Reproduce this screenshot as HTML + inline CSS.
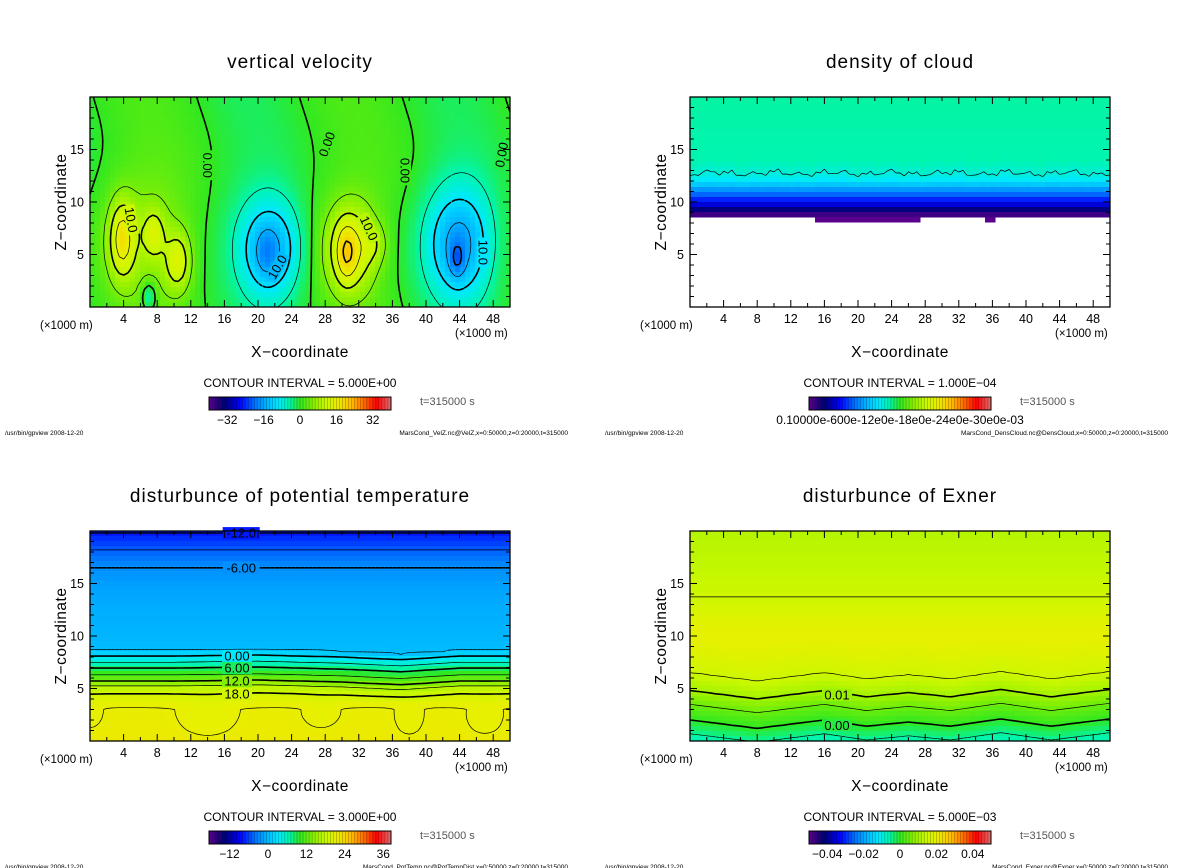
<!DOCTYPE html>
<html><head><meta charset="utf-8">
<style>
html,body{margin:0;padding:0;background:#fff;}
svg{display:block;font-family:"Liberation Sans",sans-serif;}
</style></head>
<body>
<svg id="root" width="1200" height="868" viewBox="0 0 1200 868" xmlns="http://www.w3.org/2000/svg"></svg>
<script>
// ---------- DATA ----------
const velBlobX  = [3.8, 7.6, 10.5, 6.5, 7.0, 21.5, 21.0, 31.0, 30.5, 34.0, 44.0, 43.7];
const velBlobZ  = [6.5, 7.0, 4.3, 6.0, 1.0, 5.5, 5.0, 5.5, 5.0, 6.0, 6.0, 4.5];
const velBlobSX = [1.1, 0.9, 1.1, 4.0, 0.6, 2.6, 0.8, 2.2, 0.8, 1.0, 2.8, 0.6];
const velBlobSZ = [2.6, 1.6, 2.0, 4.5, 1.0, 3.3, 1.5, 3.0, 2.0, 1.3, 3.8, 1.2];
const velBlobAmp= [13, 8, 11, 4.5, -9, -15, -3, 14, 6, 4, -15, -6];
const velWaveAmp = 2.0, velWavePeriod = 24.5, velWaveCenter = 7;
const velLevels = [-20,-15,-10,-5,0,5,10,15,20];
const velTicks = [-32,-16,0,16,32];

const cloudZ   = [8.6, 9.0, 9.5, 10.0, 10.8, 11.5, 12.0, 12.7, 14.0, 20.0];
const cloudVal = [0.05, 0.5, 1.2, 1.7, 2.5, 3.2, 3.8, 4.1, 4.4, 4.45];
const cloudBaseX = [0, 14.5, 14.6, 27.5, 27.6, 35, 35.1, 36.5, 36.6, 43.5, 43.6, 46, 46.1, 50];
const cloudBaseZ = [8.6, 8.6, 8.3, 8.3, 8.6, 8.6, 8.3, 8.3, 8.6, 8.6, 8.35, 8.35, 8.6, 8.6];
const cloudLevels = [4.1];

const tempZ   = [0, 1, 2, 3, 3.6, 4.5, 5.1, 5.7, 6.3, 6.95, 7.5, 8.1, 8.6, 9.5, 11, 12.5, 14, 16.5, 18.2, 19.8, 20];
const tempVal = [21.6, 21.4, 21.3, 21.2, 20.5, 18, 16, 12, 9, 6, 3, 0, -3, -3.6, -3.9, -4.1, -4.6, -6, -9, -12, -12.3];
const tempDipX  = [14, 27.5, 38, 47, 0];
const tempDipZ  = [2.2, 2.5, 2.0, 2.0, 2.5];
const tempDipSX = [2.3, 1.5, 1.2, 1.5, 1.0];
const tempDipSZ = [1.4, 1.0, 1.3, 1.2, 1.0];
const tempDipAmp= [-1.0, -0.8, -0.8, -0.8, -0.8];
const tempShiftX = [0, 10, 20, 30, 37, 44, 50];
const tempShift  = [0, 0, 0.1, -0.1, -0.35, 0, 0];
const tempLevels = [-12,-9,-6,-3,0,3,6,9,12,15,18,21];
const tempTicks = [-12,0,12,24,36];

const exnZ   = [0, 0.3, 1.6, 3.1, 4.4, 6.1, 8, 9.5, 11, 13.7, 16, 20];
const exnVal = [-0.006, -0.005, 0, 0.005, 0.01, 0.015, 0.018, 0.0195, 0.019, 0.015, 0.0135, 0.012];
const exnShiftX = [0, 8, 16, 21, 26, 31, 37, 43, 50];
const exnShift  = [0.4, -0.4, 0.4, -0.2, 0.2, -0.2, 0.5, -0.2, 0.5];
const exnLevels = [-0.005, 0, 0.005, 0.01, 0.015];
const exnTicks = [-0.04,-0.02,0,0.02,0.04];

// ---------- helpers ----------
const NS = "http://www.w3.org/2000/svg";
const root = document.getElementById('root');
function el(tag, attrs, parent){ const e=document.createElementNS(NS,tag); for(const k in attrs) e.setAttribute(k,attrs[k]); (parent||root).appendChild(e); return e; }
function interp(xs, ys, x){ if(x<=xs[0]) return ys[0]; for(let i=1;i<xs.length;i++){ if(x<=xs[i]){ const t=(x-xs[i-1])/(xs[i]-xs[i-1]); return ys[i-1]+t*(ys[i]-ys[i-1]); } } return ys[ys.length-1]; }
function blobs(X,Z,SX,SZ,A,x,z){ let s=0; for(let i=0;i<X.length;i++){ const dx=(x-X[i])/SX[i], dz=(z-Z[i])/SZ[i]; s+=A[i]*Math.exp(-0.5*(dx*dx+dz*dz)); } return s; }
const cmapT = [0,0.08,0.17,0.25,0.32,0.38,0.44,0.5,0.58,0.64,0.7,0.78,0.86,0.92,1];
const cmapC = ["#600090","#000070","#0000ff","#0070ff","#00b8ff","#00e8ff","#00f5b0","#30e820","#90f000","#c8f800","#e8f000","#ffc000","#ff6000","#ff0000","#e07070"];
function hex(c){return [parseInt(c.slice(1,3),16),parseInt(c.slice(3,5),16),parseInt(c.slice(5,7),16)];}
const cmapRGB = cmapC.map(hex);
function cmap(t){ t=Math.max(0,Math.min(1,t)); let i=1; while(i<cmapT.length-1 && t>cmapT[i]) i++; const f=(t-cmapT[i-1])/(cmapT[i]-cmapT[i-1]); const a=cmapRGB[i-1], b=cmapRGB[i]; return `rgb(${Math.round(a[0]+f*(b[0]-a[0]))},${Math.round(a[1]+f*(b[1]-a[1]))},${Math.round(a[2]+f*(b[2]-a[2]))})`; }

// ---------- fields ----------
function velField(x,z){ const xp = x + 1.2*Math.sin(z/3); return velWaveAmp*Math.cos(2*Math.PI*(xp-velWaveCenter)/velWavePeriod) + blobs(velBlobX,velBlobZ,velBlobSX,velBlobSZ,velBlobAmp,x,z); }
function cloudBase(x){ return interp(cloudBaseX,cloudBaseZ,x); }
function cloudField(x,z){ if(z<cloudBase(x)) return null; const n = 0.06*Math.sin(x*2.3)+0.05*Math.sin(x*5.7+1)+0.04*Math.sin(x*0.9+2); return interp(cloudZ,cloudVal,z) + n*Math.exp(-Math.pow(z-12.7,2)); }
function tempField(x,z){ const w = (z>4 && z<9)?1:0; const zs = z - w*interp(tempShiftX,tempShift,x); return interp(tempZ,tempVal,zs) + blobs(tempDipX,tempDipZ,tempDipSX,tempDipSZ,tempDipAmp,x,z); }
function exnField(x,z){ const w = z<8?1:(z<11?(11-z)/3:0); return interp(exnZ,exnVal, z - w*interp(exnShiftX,exnShift,x)); }

// ---------- panel drawing ----------
const FW=420, FH=210;
function drawPanel(o){
  const g = el('g',{});  
  const X0=90+o.dx, Y0=97+o.dy;
  const px = x=>X0+x*FW/50, py = z=>Y0+FH-z*FH/20;
  const t=el('text',{x:300+o.dx,y:68+o.dy,'text-anchor':'middle','font-size':19,'letter-spacing':1,fill:'#000'},g); t.textContent=o.title;
   
  const fill = el('g',{},g);  
  const step=5;
  for(let i=0;i<FW;i+=step){ for(let j=0;j<FH;j+=step){
    const x=(i+step/2)*50/FW, z=(FH-j-step/2)*20/FH; const v=o.field(x,z); if(v===null) continue;
    el('rect',{x:X0+i,y:Y0+j,width:step+0.5,height:step+0.5,fill:cmap((v-o.vmin)/(o.vmax-o.vmin))},fill);
  }}
  const NX=101, NZ=81, dxk=50/(NX-1), dzk=20/(NZ-1);
  const F=[]; for(let i=0;i<NX;i++){F.push([]); for(let j=0;j<NZ;j++){ F[i].push(o.field(i*dxk,j*dzk)); }}
  const lines = el('g',{fill:'none',stroke:'#000'},g);  
  o.levels.forEach(L=>{
    let d='';
    for(let i=0;i<NX-1;i++) for(let j=0;j<NZ-1;j++){
      const c=[F[i][j],F[i+1][j],F[i+1][j+1],F[i][j+1]]; if(c.some(v=>v===null)) continue;
      const P=[[i,j],[i+1,j],[i+1,j+1],[i,j+1]];
      let cs=0; for(let k=0;k<4;k++) if(c[k]>L) cs|=(1<<k);
      if(cs===0||cs===15) continue;
      const pts={};
      for(let e=0;e<4;e++){ const a=e,b=(e+1)%4; if((c[a]>L)!==(c[b]>L)){ const f=(L-c[a])/(c[b]-c[a]); pts[e]=[ (P[a][0]+f*(P[b][0]-P[a][0]))*dxk, (P[a][1]+f*(P[b][1]-P[a][1]))*dzk ]; } }
      const ks=Object.keys(pts).map(Number); let pairs;
      if(ks.length===2) pairs=[[ks[0],ks[1]]]; else if(cs===5) pairs=[[3,0],[1,2]]; else pairs=[[0,1],[2,3]];
      pairs.forEach(p=>{ const a=pts[p[0]], b=pts[p[1]]; d+=`M${px(a[0]).toFixed(1)},${py(a[1]).toFixed(1)}L${px(b[0]).toFixed(1)},${py(b[1]).toFixed(1)}`; });
    }
    if(!d) return;
    const thick = o.thick(L);
    const p=el('path',{d:d,'stroke-width':thick?1.6:0.7,'stroke-dasharray':L<0?'4,3':'none'},lines);
     
  });
  (o.labels||[]).forEach(l=>{
    const tx=px(l[1]), ty=py(l[2]);
    const v=o.field(l[1],l[2]); const bg = v===null?'#fff':cmap((v-o.vmin)/(o.vmax-o.vmin));
    const lg=el('g',{transform:`rotate(${l[3]||0},${tx},${ty})`},g);
     
    const w=l[0].length*7+2;
    el('rect',{x:tx-w/2,y:ty-6,width:w,height:12,fill:bg},lg);
    const lt=el('text',{x:tx,y:ty+4.5,'text-anchor':'middle','font-size':13,fill:'#000'},lg);
    lt.textContent=l[0];
  });
  const ax=el('g',{stroke:'#000','stroke-width':1.3,fill:'none'},g);  
  el('rect',{x:X0,y:Y0,width:FW,height:FH},ax);
  let td='';
  for(let x=2;x<50;x+=2){ const len=(x%4===0)?7:4; td+=`M${px(x)},${Y0+FH}v${-len}M${px(x)},${Y0}v${len}`; }
  for(let z=1;z<20;z++){ const len=(z%5===0)?7:4; td+=`M${X0},${py(z)}h${len}M${X0+FW},${py(z)}h${-len}`; }
  el('path',{d:td,'stroke-width':1},ax);
  const xt=el('g',{'font-size':12.5,'text-anchor':'middle',fill:'#000'},g);  
  for(let x=4;x<50;x+=4){ const tt=el('text',{x:px(x),y:Y0+FH+16},xt); tt.textContent=x; }
  const yt=el('g',{'font-size':12.5,'text-anchor':'end',fill:'#000'},g);  
  [5,10,15].forEach(z=>{ const tt=el('text',{x:X0-6,y:py(z)+4.5},yt); tt.textContent=z; });
  const u1=el('text',{x:40+o.dx,y:329+o.dy,'font-size':11.5,fill:'#000'},g); u1.textContent='(\u00d71000 m)';  
  const u2=el('text',{x:455+o.dx,y:337+o.dy,'font-size':11.5,fill:'#000'},g); u2.textContent='(\u00d71000 m)';  
  const xl=el('text',{x:300+o.dx,y:357+o.dy,'text-anchor':'middle','font-size':15.5,'letter-spacing':0.5,fill:'#000'},g); xl.textContent='X\u2212coordinate';  
  const yl=el('text',{x:0,y:0,'text-anchor':'middle','font-size':15.5,'letter-spacing':0.5,fill:'#000',transform:`translate(${66+o.dx},${202+o.dy}) rotate(-90)`},g); yl.textContent='Z\u2212coordinate';  
  const ci=el('text',{x:300+o.dx,y:387+o.dy,'text-anchor':'middle','font-size':12,fill:'#000'},g); ci.textContent='CONTOUR INTERVAL = '+o.interval;  
  const cb=el('g',{},g);  
  const BX=209+o.dx, BY=397+o.dy, BW=182, BH=13, N=60;
  for(let k=0;k<N;k++){ const c=cmap((k+0.5)/N); el('rect',{x:BX+k*BW/N,y:BY,width:BW/N+0.3,height:BH,fill:c},cb); el('line',{x1:BX+k*BW/N,y1:BY,x2:BX+k*BW/N,y2:BY+BH,stroke:'rgba(0,0,0,0.35)','stroke-width':0.6},cb); }
  el('rect',{x:BX,y:BY,width:BW,height:BH,fill:'none',stroke:'#000','stroke-width':1},cb);
  if(o.cbTicks){ o.cbTicks.forEach(v=>{ const tx=BX+(v-o.cbMin)/(o.cbMax-o.cbMin)*BW; const tt=el('text',{x:tx,y:BY+27,'text-anchor':'middle','font-size':12,fill:'#000'},cb); tt.textContent=(v<0?'\u2212':'')+Math.abs(v); }); }
  else { const tt=el('text',{x:BX+BW/2,y:BY+27,'text-anchor':'middle','font-size':12,fill:'#000'},cb); tt.textContent=o.cbText; }
  const ts=el('text',{x:420+o.dx,y:405+o.dy,'font-size':11,fill:'#555'},g); ts.textContent='t=315000 s';  
  const f1=el('text',{x:5+o.dx,y:435+o.dy,'font-size':6.5,fill:'#000'},g); f1.textContent='/usr/bin/gpview  2008-12-20';  
  const f2=el('text',{x:568+o.dx,y:435+o.dy,'font-size':6.5,'text-anchor':'end',fill:'#000'},g); f2.textContent=o.footer;  
}

drawPanel({name:'panel-vertical-velocity',title:'vertical velocity',dx:0,dy:0,field:velField,vmin:-40,vmax:40,levels:velLevels,
  thick:L=>L%10===0,interval:'5.000E+00',cbMin:-40,cbMax:40,cbTicks:velTicks,
  footer:'MarsCond_VelZ.nc@VelZ,x=0:50000,z=0:20000,t=315000',
  labels:[['10.0',4.9,8.3,80],['0.00',14,13.5,90],['0.00',28.2,15.5,-70],['0.00',37.5,13,90],['0.00',49,14.5,-80],['10.0',22.3,3.8,-60],['10.0',33.2,7.5,65],['10.0',46.8,5.2,90]]});
drawPanel({name:'panel-density-of-cloud',title:'density of cloud',dx:600,dy:0,field:cloudField,vmin:0,vmax:10,levels:cloudLevels,
  thick:L=>false,interval:'1.000E\u221204',cbText:'0.10000e-600e-12e0e-18e0e-24e0e-30e0e-03',
  footer:'MarsCond_DensCloud.nc@DensCloud,x=0:50000,z=0:20000,t=315000'});
drawPanel({name:'panel-potential-temperature',title:'disturbunce of potential temperature',dx:0,dy:434,field:tempField,vmin:-24,vmax:40,levels:tempLevels,
  thick:L=>L%6===0,interval:'3.000E+00',cbMin:-18.4,cbMax:38.4,cbTicks:tempTicks,
  footer:'MarsCond_PotTemp.nc@PotTempDist,x=0:50000,z=0:20000,t=315000',
  labels:[['-12.0',18,19.8,0],['-6.00',18,16.5,0],['0.00',17.5,8.1,0],['6.00',17.5,6.95,0],['12.0',17.5,5.7,0],['18.0',17.5,4.5,0]]});
drawPanel({name:'panel-exner',title:'disturbunce of Exner',dx:600,dy:434,field:exnField,vmin:-0.05,vmax:0.05,levels:exnLevels,
  thick:L=>Math.abs(L)<1e-9||Math.abs(L-0.01)<1e-9,interval:'5.000E\u221203',cbMin:-0.05,cbMax:0.05,cbTicks:exnTicks,
  footer:'MarsCond_Exner.nc@Exner,x=0:50000,z=0:20000,t=315000',
  labels:[['0.01',17.5,4.4,0],['0.00',17.5,1.5,0]]});
</script>
</body></html>
